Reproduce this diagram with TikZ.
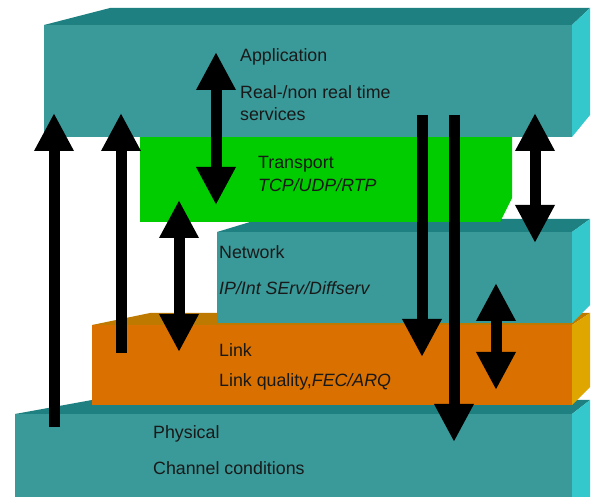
\documentclass[tikz,border=0pt]{standalone}
\usepackage{fontspec}
\setmainfont{Liberation Sans}
\usetikzlibrary{arrows.meta}
\usetikzlibrary{positioning}

\definecolor{tealfront}{RGB}{58,153,153}
\definecolor{tealtop}{RGB}{30,128,128}
\definecolor{tealside}{RGB}{52,200,204}
\definecolor{trgreen}{RGB}{0,204,0}
\definecolor{linkfront}{RGB}{218,112,0}
\definecolor{linktop}{RGB}{190,122,0}
\definecolor{linkside}{RGB}{224,166,0}

\begin{document}
\begin{tikzpicture}[x=1pt,y=-1pt,
  lbl/.style={anchor=west,inner sep=0pt,text=black!90,font=\fontsize{17.8}{19}\selectfont},
  onearrow/.style={line width=11pt,-{Triangle[width=37pt,length=38pt]}},
  twoarrow/.style={line width=11pt,{Triangle[width=37pt,length=38pt]}-{Triangle[width=37pt,length=38pt]}}]
\useasboundingbox[fill=white] (0,0) rectangle (598,497);

% Physical
\fill[tealfront] (15,414) -- (572,414) -- (572,497) -- (15,497) -- cycle;
\fill[tealtop] (15,414) -- (92,400) -- (590,400) -- (572,414) -- cycle;
\fill[tealside] (572,414) -- (590,400) -- (590,497) -- (572,497) -- cycle;

% Link
\fill[linkfront] (92,325) -- (572,325) -- (572,405) -- (92,405) -- cycle;
\fill[linktop] (92,325) -- (150,313) -- (590,313) -- (572,325) -- cycle;
\fill[linkside] (572,325) -- (590,313) -- (590,387) -- (572,405) -- cycle;

% Network
\fill[tealfront] (217,232) -- (572,232) -- (572,323) -- (217,323) -- cycle;
\fill[tealtop] (217,232) -- (260,219) -- (590,219) -- (572,232) -- cycle;
\fill[tealside] (572,232) -- (590,219) -- (590,305) -- (572,323) -- cycle;

% Transport
\fill[trgreen] (140,130) -- (512,130) -- (512,198) -- (500,222) -- (140,222) -- cycle;

% Application
\fill[tealfront] (44,25) -- (572,25) -- (572,137) -- (44,137) -- cycle;
\fill[tealtop] (44,25) -- (110,8) -- (590,8) -- (572,25) -- cycle;
\fill[tealside] (572,25) -- (590,8) -- (590,115) -- (572,137) -- cycle;

% labels
\node[lbl] (app) at (240,57) {Application};
\node[lbl] (rt) at (240,92) {Real-/non real time};
\node[lbl] (serv) at (240,114) {services};
\node[lbl] (tr) at (258,164) {Transport};
\node[lbl] (tcp) at (258,185) {\itshape TCP/UDP/RTP};
\node[lbl] (net) at (219,252) {Network};
\node[lbl] (ip) at (219,288) {\itshape IP/Int SErv/Diffserv};
\node[lbl] (lnk) at (219,350) {Link};
\node[lbl] (lq) at (219,382) {Link quality,\itshape FEC/ARQ};
\node[lbl] (phy) at (153,434) {Physical};
\node[lbl] (chan) at (153,468) {Channel conditions};

% arrow ends
\coordinate (a1s) at (54,427);  \coordinate (a1e) at (54,113);
\coordinate (a2s) at (121,353); \coordinate (a2e) at (121,113);
\coordinate (a3s) at (216,52);  \coordinate (a3e) at (216,205);
\coordinate (a4s) at (179,200); \coordinate (a4e) at (179,352);
\coordinate (a5s) at (422,115); \coordinate (a5e) at (422,357);
\coordinate (a6s) at (454,115); \coordinate (a6e) at (454,442);
\coordinate (a7s) at (535,113); \coordinate (a7e) at (535,243);
\coordinate (a8s) at (496,283); \coordinate (a8e) at (496,390);

\draw[onearrow] (a1s) -- (a1e);
\draw[onearrow] (a2s) -- (a2e);
\draw[twoarrow] (a3s) -- (a3e);
\draw[twoarrow] (a4s) -- (a4e);
\draw[onearrow] (a5s) -- (a5e);
\draw[onearrow] (a6s) -- (a6e);
\draw[twoarrow] (a7s) -- (a7e);
\draw[twoarrow] (a8s) -- (a8e);

\end{tikzpicture}
\end{document}
